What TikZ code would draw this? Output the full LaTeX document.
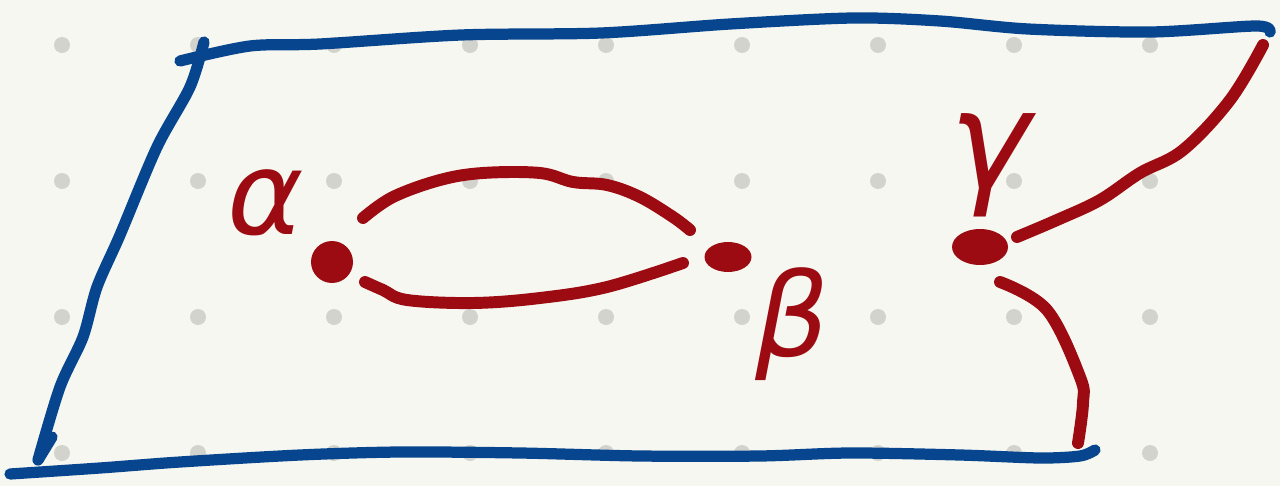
\documentclass[tikz,border=0pt]{standalone}
\usepackage{fontspec}
\newfontfamily\grego{DejaVu Sans}
\usetikzlibrary{positioning,shapes.geometric}

\definecolor{papier}{HTML}{F6F7F1}
\definecolor{tinta}{HTML}{07458E}
\definecolor{vermelho}{HTML}{9C0B12}
\definecolor{grade}{HTML}{D3D3CD}

\begin{document}
\begin{tikzpicture}[
  x=0.02cm, y=-0.02cm,
  borda/.style={draw=tinta, line width=6.4pt, line cap=round, line join=round},
  traco/.style={draw=vermelho, line width=6.8pt, line cap=round, line join=round},
  ponto/.style={fill=vermelho, inner sep=0pt},
  rotulo/.style={text=vermelho, font=\grego\itshape\fontsize{66}{66}\selectfont, inner sep=0pt}
]

% ---------------- Fundo e grade ----------------
\fill[papier] (0,0) rectangle (1280,486);
\useasboundingbox (0,0) rectangle (1280,486);
\foreach \i in {0,...,8}
  \foreach \j in {0,...,3}
    \fill[grade] (62+136*\i,45+136*\j) circle (0.16cm);

% ---------------- Plano ----------------
\draw[borda] plot[smooth, tension=0.5] coordinates {(180,61) (250,46) (320,44) (461,35)
  (601,33) (730,24) (853,18) (940,21) (1028,29) (1151,32) (1256,26) (1270,32)};
\draw[borda] plot[smooth, tension=0.5] coordinates {(204,42) (190,87) (157,147)
  (120,235) (97,287) (83,337) (60,387) (38,460)};
\draw[borda] (38,460) -- (52,437);
\draw[borda] plot[smooth, tension=0.5] coordinates {(10,474) (100,468) (180,462) (300,455)
  (400,452) (520,453) (640,456) (760,456) (850,453) (960,455) (1040,458) (1080,456) (1095,450)};

% ---------------- Pontos ----------------
\node[ponto, circle, minimum size=0.84cm] (alfa) at (332,262) {};
\node[ponto, ellipse, minimum width=0.94cm, minimum height=0.6cm] (beta) at (728,257) {};
\node[ponto, ellipse, minimum width=1.12cm, minimum height=0.72cm] (gama) at (980,247) {};

\node[rotulo] (ralfa) at (266,203) {α};
\node[rotulo] (rbeta) at (792,324) {β};
\node[rotulo, font=\grego\itshape\fontsize{78}{78}\selectfont] (rgama) at (990,165) {γ};

% ---------------- Caminhos ----------------
\coordinate (a1) at (363,218);
\coordinate (b1) at (690,230);
\coordinate (a2) at (365,282);
\coordinate (b2) at (683,263);
\coordinate (g1) at (1017,237);
\coordinate (c1) at (1263,45);
\coordinate (g2) at (1000,282);
\coordinate (c2) at (1078,443);

\draw[traco] plot[smooth, tension=0.6] coordinates {(a1) (393,197) (440,180) (483,173)
  (540,173) (573,182) (607,185) (640,197) (673,217) (b1)};
\draw[traco] plot[smooth, tension=0.6] coordinates {(a2) (383,290) (407,300) (473,303)
  (540,298) (607,287) (b2)};
\draw[traco] plot[smooth, tension=0.6] coordinates {(g1) (1057,220) (1100,200) (1140,173)
  (1183,150) (1230,100) (c1)};
\draw[traco] plot[smooth, tension=0.6] coordinates {(g2) (1047,310) (1080,377) (1083,403) (c2)};

\end{tikzpicture}
\end{document}
